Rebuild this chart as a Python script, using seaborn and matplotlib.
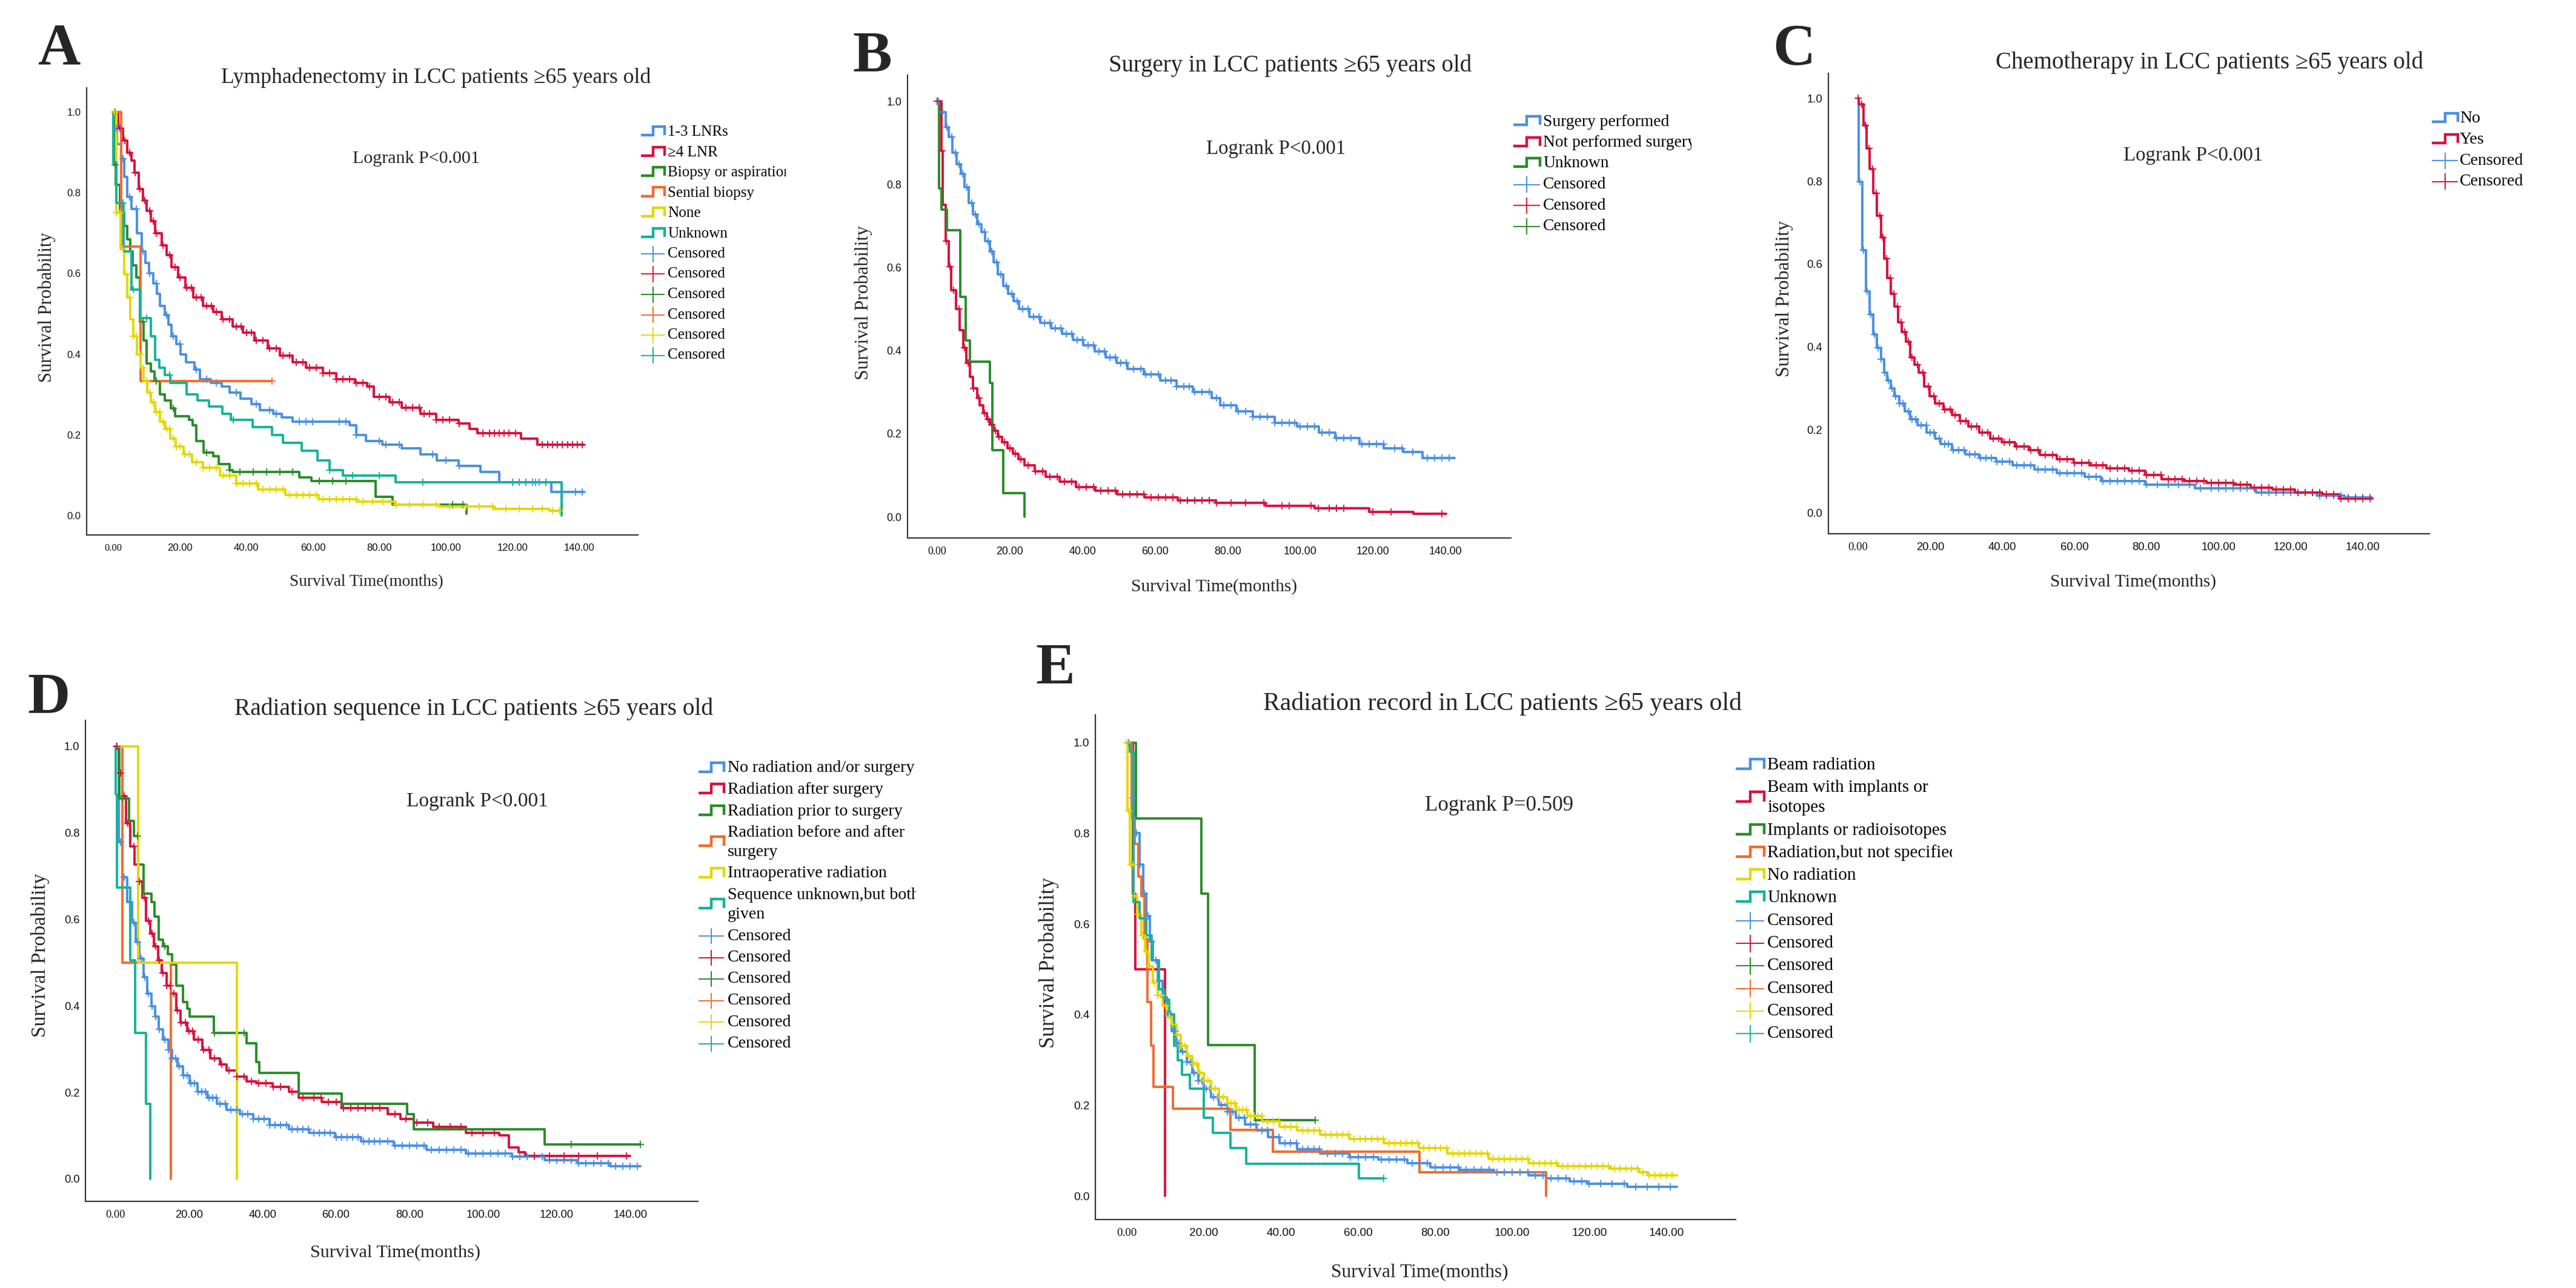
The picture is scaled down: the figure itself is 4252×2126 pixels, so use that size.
import numpy as np
import pandas as pd
import matplotlib
matplotlib.use("Agg")
import matplotlib.pyplot as plt
import seaborn as sns
from matplotlib.lines import Line2D
from matplotlib.transforms import Bbox, TransformedBbox

# ============================ DATA ============================
MONTH_TICKS = [0, 20, 40, 60, 80, 100, 120, 140]
MONTH_LABELS = ["0.00", "20.00", "40.00", "60.00", "80.00", "100.00", "120.00", "140.00"]
PROB_TICKS = [0.0, 0.2, 0.4, 0.6, 0.8, 1.0]
PROB_LABELS = ["0.0", "0.2", "0.4", "0.6", "0.8", "1.0"]

# ---- Panel A : Lymphadenectomy ----
A_TITLE = "Lymphadenectomy in LCC patients \u226565 years old"
A_P = "Logrank P<0.001"
A_GROUPS = ["1-3 LNRs", "\u22654 LNR", "Biopsy or aspiration", "Sential biopsy", "None", "Unknown"]

A1_T = [0, 0.3, 1.1, 2.3, 3.3, 4.2, 5.5, 7.2, 8.5, 9.6, 10.8, 12.1, 13.2, 14.1, 15.4, 16.5, 17.5, 19, 20.3, 21.9,
        24.4, 26, 29.3, 32.6, 35, 38.3, 41.6, 44, 48, 50.6, 53.9, 71, 73, 76, 80.9, 86.6, 92.3, 97.2, 103.8, 110.3,
        116, 131.6]
A1_S = [1.0, .96, .92, .885, .84, .79, .76, .70, .655, .626, .60, .575, .55, .52, .497, .473, .444, .425, .40, .38,
        .362, .338, .329, .32, .305, .29, .276, .262, .252, .243, .233, .223, .20, .185, .175, .166, .151, .137, .123,
        .108, .082, .058]
A1_END = 141.5
A1_C = [1, 3, 5, 7, 9, 11, 13, 16, 18, 20, 25, 28, 31, 37, 43, 47, 49, 56, 58, 60, 68, 70, 73, 80, 82, 86, 96, 100,
        104, 120, 122, 124, 126, 128, 130, 139, 141]

A2_T = [0, 1.5, 3, 4.2, 5.5, 6.4, 7.7, 9, 10, 11.3, 12.6, 14.5, 16, 17.5, 19.5, 21.6, 24, 27, 30, 32.6, 35.8, 39,
        42.4, 46.5, 50, 54, 58, 63, 67, 72.7, 76.3, 78.4, 83, 86.6, 92.3, 97, 103.8, 107, 109.5, 122.6, 127.5]
A2_S = [1.0, .96, .93, .90, .88, .85, .81, .78, .755, .73, .70, .67, .645, .615, .59, .565, .54, .52, .505, .487, .468,
        .453, .434, .415, .396, .38, .367, .353, .338, .329, .32, .295, .281, .267, .252, .238, .228, .214, .204, .19,
        .175]
A2_END = 141.5
A2_C = [0.5, 2, 3.5, 5, 6.5, 8, 9.5, 11, 12, 13, 15, 17, 18.5, 20, 22, 23.5, 25, 26.5, 28, 29.5, 31, 33, 35, 37, 38.5,
        40, 41.5, 43, 45, 47, 49, 51, 53, 55, 57, 59, 61, 63, 65, 67, 69, 71, 73, 75, 77, 80, 82, 84, 86, 88, 90, 92,
        93.5, 95, 97, 99, 101, 104, 111, 113, 114.5, 116, 117.5, 119, 121, 129, 130.5, 132, 133.5, 135, 136.5, 138,
        139.5, 141]

A3_T = [0, 0.2, 0.7, 2, 3.3, 4.2, 5.2, 5.9, 6.9, 8, 9.2, 10.1, 11.3, 12.4, 14.1, 15.4, 17.3, 18.6, 22.7, 23.9, 24.9,
        27.2, 30.1, 31.7, 35, 35.8, 56, 59.6, 78.9, 84, 106.2]
A3_S = [1.0, .87, .82, .75, .717, .684, .655, .62, .59, .48, .434, .377, .358, .334, .30, .286, .266, .247, .238, .223,
        .185, .156, .147, .128, .113, .108, .094, .086, .046, .027, .005]
A3_END = 106.2
A3_C = [0.5, 9, 13, 18, 28, 35, 38, 42, 46, 50, 54, 62, 66, 70, 102, 105]

A4_T = [0, 2.3, 8.2]
A4_S = [1.0, 0.667, 0.333]
A4_END = 47.7
A4_C = [47.7]

A5_T = [0, 0.9, 2.2, 3.2, 4.2, 5.2, 6, 7.2, 8.2, 9.2, 10.2, 11.3, 12.6, 14.1, 15.4, 17.1, 18.7, 21.2, 23.7, 27, 32,
        36.9, 43.5, 51.8, 61.7, 73.3, 84.8, 98, 114.5, 131.1]
A5_S = [1.0, .75, .66, .597, .54, .487, .444, .40, .367, .334, .305, .281, .257, .233, .214, .19, .171, .151, .132,
        .118, .099, .08, .065, .051, .041, .034, .027, .022, .017, .012]
A5_END = 134.4
A5_C = [0.3, 1, 2, 3, 4, 5, 6, 7, 8, 9, 10, 11, 12, 13, 14, 15, 16, 17, 18, 19, 20, 21.5, 23, 25, 27, 29, 31, 33, 35,
        37, 39, 41, 43, 45, 47, 49, 51, 53, 55, 57, 59, 61, 63, 65, 67, 69, 71, 73, 75, 78, 81, 85, 89, 93, 97, 101,
        106, 110, 114, 118, 122, 126, 129, 132, 134]

A6_T = [0, 0.1, 0.9, 3.1, 5.5, 8, 11.3, 12.5, 13.8, 15.4, 17.1, 22, 25.4, 28.7, 32.8, 35.3, 41.9, 47.7, 51, 56.7,
        61.4, 65, 69.1, 84.8, 134.7]
A6_S = [1.0, .875, .775, .655, .56, .49, .444, .386, .367, .348, .329, .30, .286, .271, .252, .238, .219, .20, .18,
        .161, .137, .113, .099, .082, 0.0]
A6_END = 134.7
A6_C = [3, 6, 10, 17, 36, 65, 72, 80, 93, 120, 124, 127, 130]

# ---- Panel B : Surgery ----
B_TITLE = "Surgery in LCC patients \u226565 years old"
B_P = "Logrank P<0.001"
B_GROUPS = ["Surgery performed", "Not performed surgery", "Unknown"]

B1_T = [0, 1.2, 2.3, 3.2, 4.2, 5.3, 6.5, 7.5, 8.7, 9.9, 11, 12.2, 13.2, 14.5, 15.5, 16.7, 18.1, 19.6, 21.1, 22.6,
        25.3, 28.3, 31.3, 34.3, 37.3, 40.3, 43.4, 46.4, 49.4, 52.4, 56.9, 61.4, 65.9, 70.5, 75.7, 78, 82.5, 87, 93,
        99.1, 105.1, 109.6, 116.4, 123.1, 128.4, 133.7]
B1_S = [1.0, .974, .937, .914, .876, .849, .825, .793, .755, .728, .704, .686, .663, .639, .612, .584, .556, .537,
        .519, .5, .481, .467, .454, .44, .426, .412, .398, .384, .37, .356, .342, .328, .314, .3, .286, .268, .254,
        .24, .226, .217, .203, .189, .175, .165, .156, .142]
B1_END = 142.6
B1_C = [0.3, 1.5, 2.7, 4, 5, 6, 7, 8.2, 9.5, 10.5, 11.5, 13, 14, 15, 16.3, 17.5, 19, 20.5, 22, 23.5, 25, 26.5, 28,
        29.5, 31, 32.5, 34, 35.5, 37, 38.5, 40, 41.5, 43, 44.5, 46, 47.5, 49, 50.5, 52, 54, 56, 57.5, 59, 61, 63, 64.5,
        66, 68, 69.5, 71, 73, 75, 77, 79, 81, 83, 85, 87, 89, 91, 93, 95, 97, 98.5, 100, 102, 104, 106, 108, 110, 112,
        114, 117, 119, 121, 123, 126, 128, 131, 135, 137, 139, 141]

B2_T = [0, 1.15, 1.45, 2.4, 3.1, 3.9, 5.1, 6.1, 7.2, 8, 9, 9.9, 11, 11.7, 12.6, 13.6, 14.5, 15.5, 16.7, 17.8, 19.3,
        20.8, 22.3, 24.1, 26.9, 29.9, 33.7, 38.2, 43.5, 49.6, 57.1, 66.2, 76.8, 90.4, 104, 119.1, 131.2]
B2_S = [1.0, .881, .751, .663, .602, .546, .5, .449, .407, .37, .337, .309, .286, .268, .249, .235, .221, .207, .193,
        .179, .165, .151, .138, .124, .11, .096, .084, .072, .063, .054, .046, .04, .033, .026, .02, .012, .007]
B2_END = 140.3
B2_C = [0, 1.3, 2.5, 3.5, 4.5, 6, 7.5, 8.5, 10, 11.5, 13, 14, 15, 16, 17, 18.5, 20, 21.5, 23, 25, 27, 29, 31, 33, 35,
        37, 39, 41, 43, 45, 47, 49, 51, 53, 55, 57, 59, 61, 63, 65, 67, 69, 71, 73, 75, 77, 81, 85, 90, 95, 97, 103,
        105, 108, 110, 112, 120, 125, 139]

B3_T = [0, 0.4, 1.15, 2.7, 6.4, 7.9, 9, 14.5, 15.1, 18.1, 24.1]
B3_S = [1.0, 0.79, 0.74, 0.69, 0.53, 0.425, 0.374, 0.323, 0.16, 0.057, 0.0]
B3_END = 24.1
B3_C = []

# ---- Panel C : Chemotherapy ----
C_TITLE = "Chemotherapy in LCC patients \u226565 years old"
C_P = "Logrank P<0.001"
C_GROUPS = ["No", "Yes"]

C1_T = [0, 0.2, 1.2, 2.2, 3.3, 4.2, 5.3, 6.4, 7.3, 8.1, 9.1, 10.2, 11.4, 13, 14.5, 16.5, 19.1, 21.4, 22.9, 26, 29.8,
        33.7, 38.3, 42.9, 49, 55.2, 62.8, 67.4, 79.7, 93.5, 110.4, 127.3, 134.9]
C1_S = [1.0, .799, .633, .534, .478, .431, .399, .371, .338, .32, .301, .282, .264, .245, .226, .212, .194, .18, .166,
        .152, .142, .133, .124, .115, .105, .096, .087, .077, .068, .059, .049, .042, .037]
C1_END = 142.6
C1_C = [0.5, 1.5, 2.5, 3.5, 4.5, 5.5, 6.5, 7.5, 8.5, 9.5, 10.5, 11.5, 12.5, 14, 15, 16, 17.5, 19, 20, 21, 22.5, 24,
        25, 26.5, 28, 29.5, 31, 32.5, 34, 35.5, 37, 38.5, 40, 42, 44, 46, 48, 50, 52, 54, 56, 58, 60, 62, 64, 66, 68,
        70, 72, 74, 76, 78, 80, 83, 86, 89, 92, 95, 98, 100, 102, 104, 106, 108, 110, 112, 114, 116, 118, 120, 122,
        124, 126, 128, 130, 132, 134, 136, 138, 140, 142]

C2_T = [0, 0.2, 1.5, 2.4, 3.3, 4.2, 5.3, 6.4, 7.3, 8.1, 9.1, 10.2, 11.1, 12.2, 13.3, 14.5, 15.6, 16.8, 18.3, 19.9,
        21.4, 23.7, 26, 28.3, 30.6, 33.7, 36.7, 39.8, 43.6, 47.5, 50.5, 55.2, 59.8, 64.4, 69, 75.1, 79.7, 84.3, 90.4,
        96.6, 104.3, 108.9, 115, 121.2, 128.8, 133.4]
C2_S = [1.0, .985, .935, .879, .829, .771, .717, .664, .613, .566, .529, .497, .46, .436, .413, .375, .357, .338,
        .305, .282, .264, .25, .236, .222, .208, .194, .18, .17, .161, .152, .14, .13, .121, .115, .108, .102, .091,
        .082, .077, .073, .068, .061, .056, .049, .045, .035]
C2_END = 142.6
C2_C = [0, 1, 2, 3, 4, 5, 6, 7, 8, 9, 10, 11, 12, 13, 14, 15, 16.5, 18, 19.5, 21, 22.5, 24, 25.5, 27, 28.5, 30, 31.5,
        33, 34.5, 36, 37.5, 39, 40.5, 42, 44, 46, 48, 50, 52, 54, 56, 58, 60, 62, 64, 66, 68, 70, 72, 74, 76, 78, 80,
        82, 84, 86, 88, 90, 92, 94, 96, 98, 100, 102, 104, 106, 108, 110, 112, 114, 116, 118, 120, 122, 124, 126, 128,
        130, 132, 134, 136, 138, 140, 142]

# ---- Panel D : Radiation sequence ----
D_TITLE = "Radiation sequence in LCC patients \u226565 years old"
D_P = "Logrank P<0.001"
D_GROUPS = ["No radiation and/or surgery", "Radiation after surgery", "Radiation prior to surgery",
            "Radiation before and after\nsurgery", "Intraoperative radiation", "Sequence unknown,but both\ngiven"]

D1_T = [0, 0.9, 2, 3.2, 4.5, 5.5, 6.6, 7.7, 8.7, 9.8, 10.9, 11.9, 13, 14.4, 15.5, 16.9, 18.4, 20.2, 22.3, 25, 27.6,
        30.3, 33.9, 37.5, 41.9, 47.3, 52.6, 59.7, 66.9, 75.8, 84.7, 95.4, 107.9, 116.8, 125.7, 134.6]
D1_S = [1.0, .779, .697, .64, .592, .548, .51, .466, .428, .399, .375, .346, .322, .298, .279, .26, .24, .221, .202,
        .188, .173, .159, .149, .139, .125, .115, .106, .096, .087, .077, .067, .058, .051, .043, .036, .029]
D1_END = 142.7
D1_C = [0.3, 1.5, 2.5, 4, 5, 6, 7, 8, 9, 10, 11, 12, 13.5, 14.5, 15.5, 16.5, 17.5, 18.5, 19.5, 20.5, 21.5, 22.5, 23.5,
        24.5, 25.5, 26.5, 27.5, 28.5, 30, 31.5, 33, 34.5, 36, 37.5, 39, 40.5, 42, 43.5, 45, 46.5, 48, 49.5, 51, 52.5,
        54, 55.5, 57, 58.5, 60, 61.5, 63, 64.5, 66, 67.5, 69, 70.5, 72, 74, 76, 78, 80, 82, 84, 86, 88, 90, 92, 94, 96,
        98, 100, 102, 104, 106, 108, 110, 112, 114, 116, 118, 120, 122, 124, 126, 128, 130, 132, 134, 136, 138, 140,
        142]

D2_T = [0, 0.9, 2, 3, 4.1, 5.2, 6.2, 7.3, 8.4, 9.5, 10.5, 11.6, 12.7, 13.9, 15.2, 16.6, 17.8, 19.6, 21.4, 23.7, 25.9,
        28.5, 30.3, 33, 35.7, 38.3, 42.8, 47.3, 49.9, 56.2, 61.5, 74, 77.6, 81.1, 86.5, 95.4, 104.3, 107, 109.7, 111.5]
D2_S = [1.0, .938, .885, .822, .769, .726, .688, .649, .596, .567, .538, .505, .476, .447, .428, .389, .361, .341,
        .322, .298, .279, .264, .25, .236, .226, .221, .212, .202, .188, .178, .163, .149, .139, .13, .12, .106, .101,
        .072, .062, .053]
D2_END = 140.0
D2_C = [0.5, 1.5, 2.5, 3.5, 5, 6.5, 8, 9, 10, 11, 12, 13, 14, 15, 16, 17, 18, 19, 20, 21, 22.5, 24, 25.5, 27, 29, 31,
        33, 35, 37, 39, 41, 43, 45, 48, 51, 54, 56, 58, 60, 62, 64, 66, 68, 70, 72, 76, 79, 82, 85, 88, 91, 94, 97,
        100, 103, 114, 118, 122, 126, 131, 139]

D3_T = [0, 1.2, 3.7, 5, 6.2, 7.7, 9.8, 10.7, 11.9, 13, 14.3, 15.5, 16.6, 18.4, 19.6, 20.2, 26.8, 35.7, 38.3, 39.2,
        49.9, 61.5, 79.4, 81.1, 116.8]
D3_S = [1.0, .88, .827, .793, .726, .659, .64, .606, .553, .538, .519, .495, .447, .409, .394, .375, .337, .313, .27,
        .245, .197, .173, .149, .115, .08]
D3_END = 142.7
D3_C = [2, 6, 13.5, 27, 35, 124, 142.7]

D4_T = [0, 2.0, 15.2]
D4_S = [1.0, 0.5, 0.0]
D4_END = 15.2
D4_C = []

D5_T = [0, 6.2, 33.0]
D5_S = [1.0, 0.5, 0.0]
D5_END = 33.0
D5_C = []

D6_T = [0, 0.2, 0.5, 4.1, 5.4, 8.4, 9.5]
D6_S = [1.0, 0.889, 0.673, 0.505, 0.337, 0.173, 0.0]
D6_END = 9.5
D6_C = []

# ---- Panel E : Radiation record ----
E_TITLE = "Radiation record in LCC patients \u226565 years old"
E_P = "Logrank P=0.509"
E_GROUPS = ["Beam radiation", "Beam with implants or\nisotopes", "Implants or radioisotopes",
            "Radiation,but not specified", "No radiation", "Unknown"]

E1_T = [0, 1.2, 2, 3.2, 4.2, 5, 6, 6.8, 8, 9.2, 10.4, 11.6, 12.8, 14, 15.5, 17, 18.5, 20, 21.8, 23.8, 26, 28.3, 30.6,
        33.6, 36.6, 39.6, 44.1, 50.1, 57.7, 65.2, 72.7, 78.7, 86.3, 95.3, 104.3, 108.8, 114.9, 119.4, 129.9]
E1_S = [1.0, .878, .8, .731, .667, .617, .561, .52, .474, .438, .401, .364, .337, .318, .296, .272, .254, .236, .218,
        .2, .186, .172, .158, .144, .13, .117, .103, .094, .086, .08, .072, .063, .057, .052, .045, .039, .032, .027,
        .02]
E1_END = 142.7
E1_C = [0.5, 1.5, 2.5, 3.5, 4.5, 5.5, 6.5, 7.5, 8.5, 9.5, 10.5, 11.5, 12.5, 13.5, 14.5, 15.5, 16.5, 17.5, 18.5, 19.5,
        20.5, 21.5, 22.5, 23.5, 24.5, 26, 27.5, 29, 30.5, 32, 33.5, 35, 36.5, 38, 39.5, 41, 42.5, 44, 45.5, 47, 48.5,
        50, 52, 54, 56, 58, 60, 62, 64, 66, 68, 70, 72, 74, 76, 78, 80, 82, 84, 86, 88, 90, 92, 94, 96, 98, 100, 102,
        104, 106, 108, 110, 112, 114, 116, 118, 120, 123, 126, 129, 132, 135, 138, 141]

E2_T = [0, 1.5, 2.2, 9.9]
E2_S = [1.0, 0.667, 0.5, 0.0]
E2_END = 9.9
E2_C = []

E3_T = [0, 2.3, 19.3, 21.1, 33.1]
E3_S = [1.0, 0.833, 0.667, 0.333, 0.167]
E3_END = 48.9
E3_C = [48.9]

E4_T = [0, 1.2, 2, 2.9, 3.8, 4.5, 5.3, 6.2, 6.9, 11.9, 26.8, 37.8, 76, 108.8]
E4_S = [1.0, .832, .777, .704, .662, .566, .428, .332, .24, .193, .146, .098, .052, 0.0]
E4_END = 108.8
E4_C = []

E5_T = [0, 0.2, 0.8, 1.7, 2.7, 3.8, 4.7, 5.7, 6.8, 8, 9.2, 10.4, 11.6, 12.8, 14, 15.5, 17, 18.5, 20, 21.8, 23.8, 26,
        28.3, 31.3, 35.1, 39.6, 44.1, 50.1, 57.7, 66.7, 75.7, 83.2, 93.8, 104.3, 111.8, 125.4, 132.9, 135.2]
E5_S = [1.0, .85, .731, .662, .621, .575, .538, .506, .47, .442, .419, .396, .378, .355, .332, .309, .291, .272, .254,
        .236, .218, .204, .19, .176, .164, .153, .144, .135, .126, .117, .106, .094, .082, .072, .066, .06, .052, .045]
E5_END = 142.7
E5_C = [0, 0.5, 1, 1.5, 2, 3, 4, 5, 6, 7, 8, 9, 10, 11, 12, 13, 14, 15, 16, 17, 18, 19, 20, 21, 22, 23, 24, 25, 26,
        27, 28, 29, 30, 31, 32, 33, 34, 35, 36.5, 38, 39.5, 41, 42.5, 44, 45.5, 47, 48.5, 50, 51.5, 53, 54.5, 56, 57.5,
        59, 60.5, 62, 63.5, 65, 66.5, 68, 69.5, 71, 72.5, 74, 75.5, 77, 78.5, 80, 81.5, 83, 84.5, 86, 87.5, 89, 90.5,
        92, 93.5, 95, 96.5, 98, 99.5, 101, 102.5, 104, 105.5, 107, 108.5, 110, 111.5, 113, 114.5, 116, 117.5, 119,
        120.5, 122, 123.5, 125, 126.5, 128, 129.5, 131, 132.5, 134, 135.5, 137, 138.5, 140, 141.5]

E6_T = [0, 0.8, 1.7, 3.2, 5, 6.5, 8.3, 9.8, 11, 12.2, 13.2, 14.3, 16.3, 20, 22.3, 26.8, 31, 60.2]
E6_S = [1.0, .979, .648, .612, .575, .52, .456, .433, .401, .332, .3, .268, .236, .172, .139, .106, .071, .039]
E6_END = 66.7
E6_C = [66.7]

# ============================ STYLE / LAYOUT ============================
BLUE, RED, GREEN, ORANGE, YELLOW, TEAL = "#4A90E2", "#D7123D", "#2A8C2A", "#F26B2D", "#E3D800", "#15B39A"
COLS6 = [BLUE, RED, GREEN, ORANGE, YELLOW, TEAL]

W, H = 4252, 2126
sns.set_theme(style="white")
SERIF = ["Liberation Serif", "DejaVu Serif"]
SANS = ["Liberation Sans", "DejaVu Sans"]
plt.rcParams["font.family"] = SERIF

fig = plt.figure(figsize=(W / 100, H / 100), dpi=100)
renderer = fig.canvas.get_renderer()


def fx(x):
    return x / W


def fy(y):
    return 1 - y / H


def put_text(x, y, s, target=None, size=20, axis="w", ha="center", va="baseline", **kw):
    t = fig.text(fx(x), fy(y), s, ha=ha, va=va, fontsize=size, **kw)
    if target:
        bb = t.get_window_extent(renderer)
        cur = bb.width if axis == "w" else bb.height
        t.set_fontsize(size * target / cur)
    return t


def fig_line(xs, ys, color, lw):
    ln = Line2D([fx(v) for v in xs], [fy(v) for v in ys], transform=fig.transFigure, color=color, lw=lw,
                solid_joinstyle="miter", solid_capstyle="butt")
    fig.add_artist(ln)


PANELS = [
    dict(letter="A", letter_xy=(98, 106), box=(143, 145, 1053, 883), xlim=(-8.0, 157.7), ylim=(-0.048, 1.06),
         tick=12.0, title=A_TITLE, title_xyw=(720, 137, 711), p=A_P, p_xyw=(687, 269, 210),
         xlab_xyw=(605, 967, 254), ylab_xyh=(77, 507, 248),
         curves=[(A1_T, A1_S, A1_END, A1_C), (A2_T, A2_S, A2_END, A2_C), (A3_T, A3_S, A3_END, A3_C),
                 (A4_T, A4_S, A4_END, A4_C), (A5_T, A5_S, A5_END, A5_C), (A6_T, A6_S, A6_END, A6_C)],
         colors=COLS6, groups=A_GROUPS,
         leg=dict(x0=1058, x1=1097, tx=1102, y0=218, gap=33.5, cont=32, cw=95, clip=1297, sh=14, ch=27)),
    dict(letter="B", letter_xy=(1440, 118), box=(1498, 124, 2494, 888), xlim=(-8.2, 158.1), ylim=(-0.051, 1.063),
         tick=12.8, title=B_TITLE, title_xyw=(2130, 118, 600), p=B_P, p_xyw=(2106, 254, 230),
         xlab_xyw=(2004, 976, 274), ylab_xyh=(1425, 500, 255),
         curves=[(B1_T, B1_S, B1_END, B1_C), (B2_T, B2_S, B2_END, B2_C), (B3_T, B3_S, B3_END, B3_C)],
         colors=[BLUE, RED, GREEN], groups=B_GROUPS,
         leg=dict(x0=2498, x1=2542, tx=2547, y0=201, gap=34.5, cont=32, cw=104, clip=2792, sh=14, ch=27)),
    dict(letter="C", letter_xy=(2961, 107), box=(3018, 121, 4010, 881), xlim=(-8.2, 158.5), ylim=(-0.05, 1.06),
         tick=13.3, title=C_TITLE, title_xyw=(3647, 113, 705), p=C_P, p_xyw=(3620, 265, 230),
         xlab_xyw=(3521, 968, 274), ylab_xyh=(2945, 493, 258),
         curves=[(C1_T, C1_S, C1_END, C1_C), (C2_T, C2_S, C2_END, C2_C)],
         colors=[BLUE, RED], groups=C_GROUPS,
         leg=dict(x0=4014, x1=4057, tx=4060, y0=196, gap=34.6, cont=32, cw=105, clip=None, sh=14, ch=27)),
    dict(letter="D", letter_xy=(80, 1177), box=(141, 1189, 1152, 1983), xlim=(-8.1, 158.4), ylim=(-0.052, 1.06),
         tick=13.2, title=D_TITLE, title_xyw=(782, 1180, 790), p=D_P, p_xyw=(788, 1331, 233),
         xlab_xyw=(653, 2075, 281), ylab_xyh=(67, 1577, 271),
         curves=[(D1_T, D1_S, D1_END, D1_C), (D2_T, D2_S, D2_END, D2_C), (D3_T, D3_S, D3_END, D3_C),
                 (D4_T, D4_S, D4_END, D4_C), (D5_T, D5_S, D5_END, D5_C), (D6_T, D6_S, D6_END, D6_C)],
         colors=COLS6, groups=D_GROUPS,
         leg=dict(x0=1153, x1=1195, tx=1201, y0=1268, gap=35.5, cont=32, cw=105, clip=1512, sh=15, ch=26)),
    dict(letter="E", letter_xy=(1742, 1129), box=(1808, 1180, 2865, 2013), xlim=(-8.2, 158.0), ylim=(-0.052, 1.061),
         tick=13.7, title=E_TITLE, title_xyw=(2480, 1172, 788), p=E_P, p_xyw=(2475, 1338, 245),
         xlab_xyw=(2343, 2107, 292), ylab_xyh=(1731, 1589, 281),
         curves=[(E1_T, E1_S, E1_END, E1_C), (E2_T, E2_S, E2_END, E2_C), (E3_T, E3_S, E3_END, E3_C),
                 (E4_T, E4_S, E4_END, E4_C), (E5_T, E5_S, E5_END, E5_C), (E6_T, E6_S, E6_END, E6_C)],
         colors=COLS6, groups=E_GROUPS,
         leg=dict(x0=2865, x1=2912, tx=2917, y0=1263, gap=37.3, cont=33, cw=110, clip=3222, sh=16, ch=29)),
]

# measure reference width of "Censored" at 20pt for legend sizing
_t = fig.text(0, 0, "Censored", fontsize=20)
CENS_W20 = _t.get_window_extent(renderer).width
_t.remove()

for P in PANELS:
    L, T, R, B = P["box"]
    ax = fig.add_axes([fx(L), fy(B), (R - L) / W, (B - T) / H])
    for (t, s, end, cens), col in zip(P["curves"], P["colors"]):
        assert len(t) == len(s), (P["letter"], len(t), len(s))
        df = pd.DataFrame({"time": list(t) + [end], "surv": list(s) + [s[-1]]})
        sns.lineplot(data=df, x="time", y="surv", drawstyle="steps-post", color=col, lw=2.8, ax=ax,
                     estimator=None, sort=False, legend=False)
        if len(cens):
            idx = np.searchsorted(np.asarray(t), np.asarray(cens), side="right") - 1
            cy = np.asarray(s)[np.clip(idx, 0, None)]
            sns.scatterplot(x=list(cens), y=cy, marker="+", s=85, color=col, linewidth=1.3, ax=ax, legend=False,
                            zorder=3)
    ax.set_xlim(*P["xlim"])
    ax.set_ylim(*P["ylim"])
    ax.set_xticks(MONTH_TICKS)
    ax.set_xticklabels(MONTH_LABELS, fontfamily=SANS, fontsize=P["tick"])
    ax.get_xticklabels()[0].set_fontfamily(SERIF)
    ax.set_yticks(PROB_TICKS)
    ax.set_yticklabels(PROB_LABELS, fontfamily=SANS, fontsize=P["tick"])
    ax.tick_params(axis="x", length=0, pad=10, colors="#111111")
    ax.tick_params(axis="y", length=0, pad=7, colors="#111111")
    ax.set_xlabel("")
    ax.set_ylabel("")
    for side in ["top", "right"]:
        ax.spines[side].set_visible(False)
    for side in ["left", "bottom"]:
        ax.spines[side].set_color("#333333")
        ax.spines[side].set_linewidth(1.5)
    ax.set_facecolor("white")

    # texts
    lx, ly = P["letter_xy"]
    put_text(lx, ly, P["letter"], size=70, fontweight="bold")
    x, y, w = P["title_xyw"]
    put_text(x, y, P["title"], target=w, size=27)
    x, y, w = P["p_xyw"]
    put_text(x, y, P["p"], target=w, size=21)
    x, y, w = P["xlab_xyw"]
    put_text(x, y, "Survival Time(months)", target=w, size=20)
    x, y, h = P["ylab_xyh"]
    put_text(x, y, "Survival Probability", target=h, size=21, axis="h", va="center", rotation=90)

    # legend (drawn manually)
    lg = P["leg"]
    fs = 20 * lg["cw"] / CENS_W20
    clip_box = None
    if lg["clip"]:
        clip_box = TransformedBbox(Bbox.from_extents(0, 0, fx(lg["clip"]), 1), fig.transFigure)
    entries = [(g, "step", c) for g, c in zip(P["groups"], P["colors"])] + \
              [("Censored", "cross", c) for c in P["colors"]]
    yy = lg["y0"]
    for label, kind, col in entries:
        lines = label.split("\n")
        ys = [yy + i * lg["cont"] for i in range(len(lines))]
        ym = (ys[0] + ys[-1]) / 2
        x0, x1 = lg["x0"], lg["x1"]
        if kind == "step":
            xm = x0 + 0.5 * (x1 - x0)
            lo, hi = ym - 2 + lg["sh"] / 2, ym - 2 - lg["sh"] / 2
            fig_line([x0, xm, xm, x1, x1], [lo, lo, hi, hi, lo], col, 3.2)
        else:
            fig_line([x0, x1], [ym, ym], col, 1.4)
            xc = (x0 + x1) / 2
            fig_line([xc, xc], [ym - lg["ch"] / 2, ym + lg["ch"] / 2], col, 1.4)
        for ln_txt, yl in zip(lines, ys):
            tt = fig.text(fx(lg["tx"]), fy(yl), ln_txt, ha="left", va="center", fontsize=fs, color="black")
            if clip_box is not None:
                tt.set_clip_box(clip_box)
                tt.set_clip_on(True)
        yy = ys[-1] + lg["gap"]

fig.savefig("out.png", dpi=100, facecolor="white")
